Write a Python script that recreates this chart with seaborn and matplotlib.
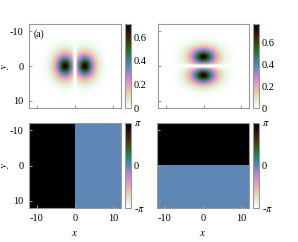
import matplotlib
matplotlib.use("Agg")
import matplotlib.pyplot as plt
import numpy as np
import seaborn as sns

# grid shared by all four panels
grid = np.linspace(-12, 12, 241)
tick_vals = [-10, 0, 10]
tick_labels = ["-10", "0", "10"]

# density lobes (left panel, right panel)
dens_peak = [0.71, 0.775]
lobe_centre = [2.6, 2.7]
spread_along = [2.2, 2.2]
spread_across = [3.0, 3.0]
profile_power = 1.5
gap_width = [0.5, 0.5]
dens_ticks = [0, 0.2, 0.4, 0.6]
dens_tick_labels = ["0", "0.2", "0.4", "0.6"]

# phase on the negative / positive side of the node
phase_halves = [np.pi, 0.0]
phase_ticks = [-np.pi, 0, np.pi]
phase_tick_labels = [r"-$\pi$", "0", r"$\pi$"]

plt.rcParams["font.family"] = ["Liberation Serif", "DejaVu Serif"]
plt.rcParams["mathtext.fontset"] = "stix"

cmap = sns.cubehelix_palette(start=0.5, rot=1.5, hue=1.0, gamma=1.0,
                             light=1.0, dark=0.0, as_cmap=True)

X, Y = np.meshgrid(grid, grid)


def lobes(s, t, i):
    d = np.sqrt(((np.abs(s) - lobe_centre[i]) / spread_along[i]) ** 2
                + (t / spread_across[i]) ** 2)
    notch = 1 - np.exp(-(s / gap_width[i]) ** 2)
    f = np.exp(-d ** profile_power) * notch
    return dens_peak[i] * f / f.max()


dens_x = lobes(X, Y, 0)
dens_y = lobes(Y, X, 1)
phase_x = np.where(X < 0, phase_halves[0], phase_halves[1])
phase_y = np.where(Y < 0, phase_halves[0], phase_halves[1])

W, H = 298, 242
fig = plt.figure(figsize=(W / 100, H / 100), dpi=100)


def box(l, r, t, b):
    return [l / W, (H - b) / H, (r - l) / W, (b - t) / H]


panels = [
    (dens_x, box(29, 121, 24, 108), box(125, 131, 24, 108), 0, dens_peak[0], dens_ticks, dens_tick_labels, True, False),
    (dens_y, box(158, 249, 24, 108), box(253, 259, 24, 108), 0, dens_peak[1], dens_ticks, dens_tick_labels, False, False),
    (phase_x, box(29, 121, 123, 208), box(125, 131, 123, 208), -np.pi, np.pi, phase_ticks, phase_tick_labels, True, True),
    (phase_y, box(157, 249, 123, 208), box(253, 259, 123, 208), -np.pi, np.pi, phase_ticks, phase_tick_labels, False, True),
]

idx = np.arange(len(grid)) + 0.5
tick_pos = np.interp(tick_vals, grid, idx)

axes = []
for field, apos, cpos, vmin, vmax, cticks, clabels, left, bottom in panels:
    ax = fig.add_axes(apos)
    cax = fig.add_axes(cpos)
    sns.heatmap(field, ax=ax, cbar_ax=cax, cmap=cmap, vmin=vmin, vmax=vmax,
                xticklabels=False, yticklabels=False, rasterized=True)
    for sp in ax.spines.values():
        sp.set_visible(True)
        sp.set_color("0.6")
        sp.set_linewidth(0.8)
    ax.set_xticks(tick_pos)
    ax.set_yticks(tick_pos)
    ax.set_xticklabels(tick_labels if bottom else [])
    ax.set_yticklabels(tick_labels if left else [])
    ax.tick_params(direction="in", length=2, color="0.6", labelsize=7.5, pad=4,
                   left=True, bottom=True, labelrotation=0)
    if left:
        ax.set_ylabel("$y$", fontsize=8)
        ax.yaxis.set_label_coords(-0.2, 0.5)
    if bottom:
        ax.set_xlabel("$x$", fontsize=8)
        ax.xaxis.set_label_coords(0.5, -0.25)

    cb = ax.collections[0].colorbar
    cb.outline.set_linewidth(0.8)
    cb.outline.set_edgecolor("0.6")
    cb.set_ticks(cticks)
    cb.set_ticklabels(clabels)
    cax.tick_params(length=0, labelsize=7.5, pad=2)
    axes.append(ax)

axes[0].text(0.05, 0.93, "(a)", transform=axes[0].transAxes, fontsize=7,
             ha="left", va="top")

fig.savefig("out.png", dpi=100)
